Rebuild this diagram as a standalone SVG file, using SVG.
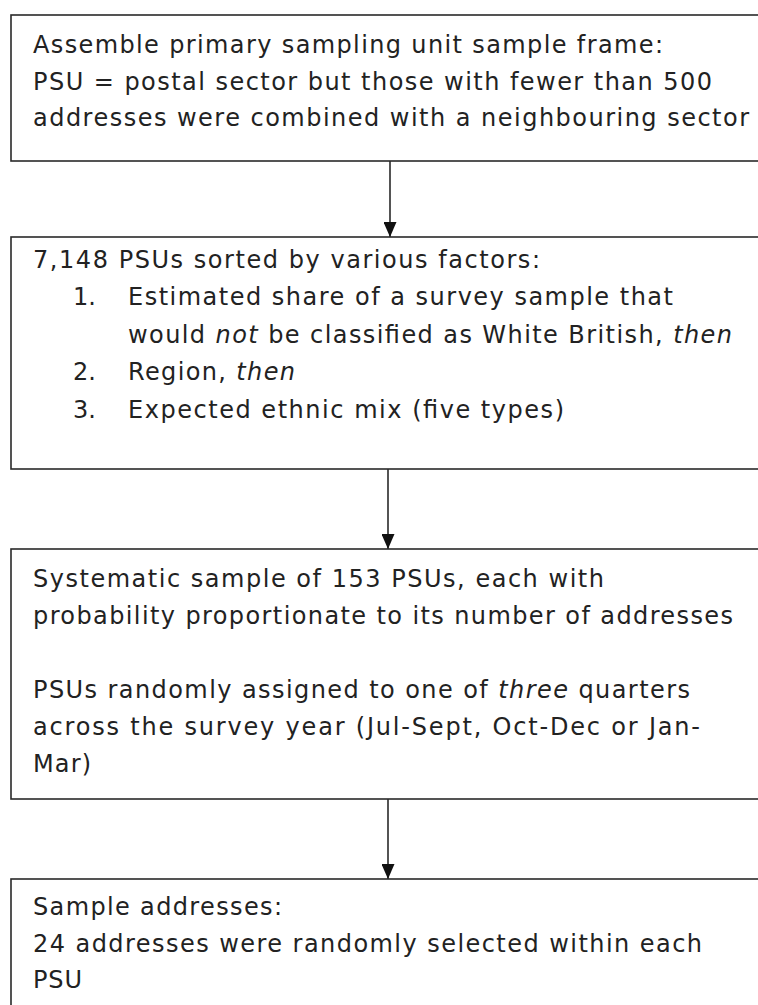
<svg xmlns="http://www.w3.org/2000/svg" width="758" height="1005" viewBox="0 0 758 1005">
<style>
.box{fill:#fff;stroke:#2a2a2a;stroke-width:1.6}
.t{font-family:"DejaVu Sans",Verdana,sans-serif;font-size:24px;fill:#222}
.i{font-style:italic}
.c{stroke:#2a2a2a;stroke-width:1.6;fill:none}
</style>
<defs>
<marker id="ah" markerWidth="15" markerHeight="13" refX="15" refY="6.5" orient="auto" markerUnits="userSpaceOnUse" viewBox="0 0 15 13">
<path d="M0,0 L15,6.5 L0,13 Z" fill="#111"/>
</marker>
</defs>
<rect width="758" height="1005" fill="#fff"/>
<g id="connectors">
<line class="c" x1="390" y1="156" x2="390" y2="237" marker-end="url(#ah)"/>
<line class="c" x1="388" y1="469" x2="388" y2="549" marker-end="url(#ah)"/>
<line class="c" x1="388" y1="799" x2="388" y2="879" marker-end="url(#ah)"/>
</g>
<g id="node1">
<rect class="box" x="11" y="15" width="770" height="146"/>
<text class="t" x="33" y="53" textLength="630" lengthAdjust="spacing">Assemble primary sampling unit sample frame:</text>
<text class="t" x="33" y="90" textLength="679" lengthAdjust="spacing">PSU = postal sector but those with fewer than 500</text>
<text class="t" x="33" y="126" textLength="716" lengthAdjust="spacing">addresses were combined with a neighbouring sector</text>
</g>
<g id="node2">
<rect class="box" x="11" y="237" width="770" height="232"/>
<text class="t" x="33" y="268" textLength="507" lengthAdjust="spacing">7,148 PSUs sorted by various factors:</text>
<text class="t" x="73" y="305">1.</text>
<text class="t" x="128" y="305" textLength="545" lengthAdjust="spacing">Estimated share of a survey sample that</text>
<text class="t" x="128" y="343" textLength="604" lengthAdjust="spacing">would <tspan class="i">not</tspan> be classified as White British, <tspan class="i">then</tspan></text>
<text class="t" x="73" y="380">2.</text>
<text class="t" x="128" y="380" textLength="167" lengthAdjust="spacing">Region, <tspan class="i">then</tspan></text>
<text class="t" x="73" y="418">3.</text>
<text class="t" x="128" y="418" textLength="436" lengthAdjust="spacing">Expected ethnic mix (five types)</text>
</g>
<g id="node3">
<rect class="box" x="11" y="549" width="770" height="250"/>
<text class="t" x="33" y="587" textLength="571" lengthAdjust="spacing">Systematic sample of 153 PSUs, each with</text>
<text class="t" x="33" y="624" textLength="700" lengthAdjust="spacing">probability proportionate to its number of addresses</text>
<text class="t" x="33" y="698" textLength="657" lengthAdjust="spacing">PSUs randomly assigned to one of <tspan class="i">three</tspan> quarters</text>
<text class="t" x="33" y="735" textLength="667" lengthAdjust="spacing">across the survey year (Jul-Sept, Oct-Dec or Jan-</text>
<text class="t" x="33" y="772" textLength="58" lengthAdjust="spacing">Mar)</text>
</g>
<g id="node4">
<rect class="box" x="11" y="879" width="770" height="160"/>
<text class="t" x="33" y="915" textLength="249" lengthAdjust="spacing">Sample addresses:</text>
<text class="t" x="33" y="952" textLength="669" lengthAdjust="spacing">24 addresses were randomly selected within each</text>
<text class="t" x="33" y="988" textLength="49" lengthAdjust="spacing">PSU</text>
</g>
</svg>
